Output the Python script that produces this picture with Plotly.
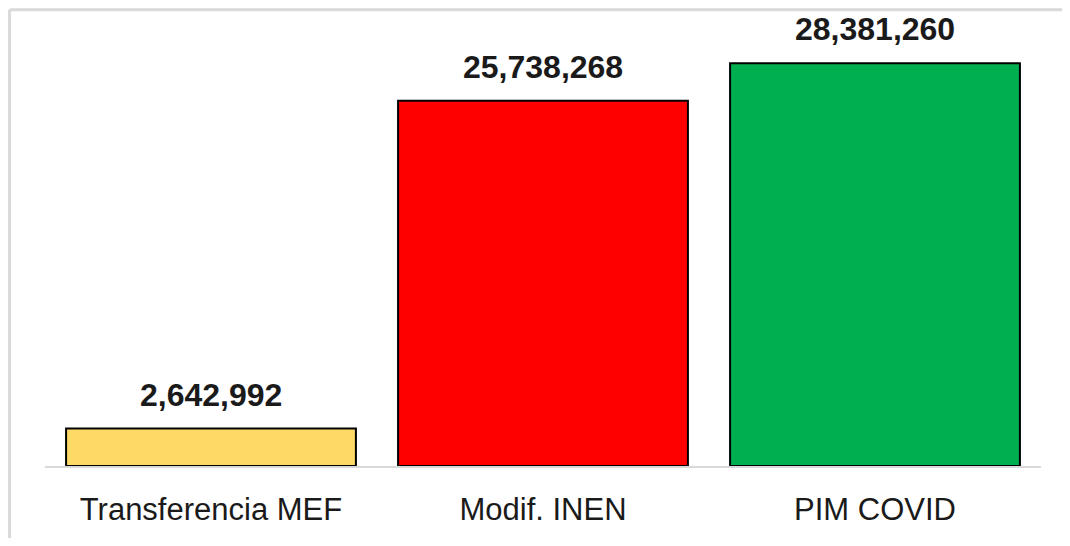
import plotly.graph_objects as go

categories = ["Transferencia MEF", "Modif. INEN", "PIM COVID"]
values = [2642992, 25738268, 28381260]
colors = ["#FFD966", "#FF0000", "#00B050"]

fig = go.Figure()
fig.add_trace(go.Bar(
    x=categories, y=values,
    marker=dict(color=colors, line=dict(color="#000000", width=2)),
    width=0.873,
    hoverinfo="skip",
))

for c, v in zip(categories, values):
    fig.add_annotation(
        x=c, y=v, text=f"<b>{v:,}</b>", showarrow=False,
        yanchor="bottom", yshift=14,
        font=dict(family="Liberation Sans, Arial", size=32, color="#1a1a1a"),
    )

# outer frame: only the top and left edges are visible in the picture
fig.add_shape(type="line", xref="paper", yref="paper",
              x0=-0.0356, x1=1.05, y0=1.005, y1=1.005,
              line=dict(color="#D9D9D9", width=3))
fig.add_shape(type="line", xref="paper", yref="paper",
              x0=-0.0356, x1=-0.0356, y0=-0.3, y1=1.005,
              line=dict(color="#D9D9D9", width=3))

fig.update_layout(
    width=1054, height=530,
    margin=dict(l=37, r=21, t=4, b=72),
    paper_bgcolor="white", plot_bgcolor="white",
    showlegend=False,
    font=dict(family="Liberation Sans, Arial", color="#1a1a1a"),
    xaxis=dict(showline=True, linecolor="#D9D9D9", linewidth=2,
               showgrid=False, ticks="", tickfont=dict(size=31),
               ticklabelstandoff=15, fixedrange=True),
    yaxis=dict(range=[0, 32000000], visible=False, showgrid=False, fixedrange=True),
)

fig.write_html("out.html", config={"displayModeBar": False})
